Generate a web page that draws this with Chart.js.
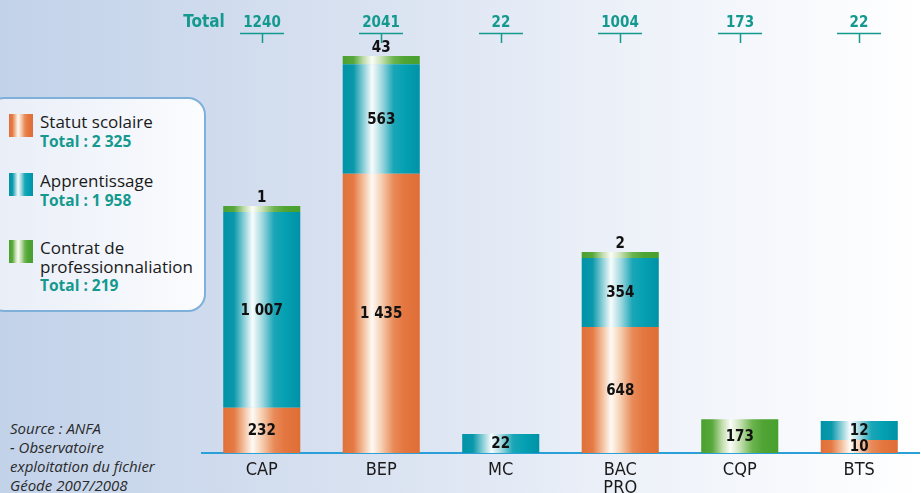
<!DOCTYPE html>
<html lang="fr">
<head>
<meta charset="utf-8">
<title>Effectifs par diplôme</title>
<script src="https://cdn.jsdelivr.net/npm/chart.js@4.4.1/dist/chart.umd.min.js"></script>
<style>
  html, body { margin: 0; padding: 0; }
  body {
    width: 921px; height: 493px; overflow: hidden; position: relative;
    background: linear-gradient(to right, #c2d2e9 0%, #d9e2f1 40%, #eef2f9 70%, #ffffff 100%);
    font-family: "Open Sans", sans-serif;
  }
  #chart { position: absolute; left: 0; top: 0; }
  #legendBox {
    position: absolute; left: -14px; top: 97px; width: 220px; height: 215px;
    box-sizing: border-box; border: 2px solid #7eb0da; border-radius: 18px;
    background: linear-gradient(to right, #e8edf7, #fbfcfe);
  }
  .swatch { position: absolute; left: 9px; width: 24px; height: 23px; }
  .ltext { position: absolute; left: 40px; font-size: 17px; line-height: 18.5px; color: #1a1a1a; }
  .ltext b { color: #14998f; font-size: 15.5px; }
  #source {
    position: absolute; left: 10px; top: 419px; font-style: italic;
    font-size: 15px; line-height: 19px; color: #2a2a2a;
  }
</style>
</head>
<body>
<div id="legendBox"></div>
<div id="legend"></div>
<div id="source">Source : ANFA<br>- Observatoire<br>exploitation du fichier<br>Géode 2007/2008</div>
<canvas id="chart" width="921" height="493"></canvas>
<script>
// --- data ---
const categories = ['CAP', 'BEP', 'MC', ['BAC', 'PRO'], 'CQP', 'BTS'];
const statutScolaire = [232, 1435, null, 648, null, 10];
const apprentissage = [1007, 563, 22, 354, null, 12];
const contratPro = [1, 43, null, 2, 173, null];
const seriesNames = [['Statut scolaire'], ['Apprentissage'], ['Contrat de', 'professionnaliation']];

const TEAL = '#14998f';
const FONT = '"DejaVu Sans Condensed", "DejaVu Sans", sans-serif';
const BAR_PCT = 0.645;

const stopsOrange = [[0, '#e0703a'], [0.14, '#e57a44'], [0.27, '#f3c09e'], [0.38, '#fffaf5'], [0.5, '#f6cfb2'], [0.66, '#e88a58'], [0.8, '#e4763f'], [1, '#df6e36']];
const stopsTeal = [[0, '#0093a7'], [0.14, '#0a98ab'], [0.27, '#8ccfd8'], [0.38, '#f8fcfd'], [0.5, '#a6dae1'], [0.66, '#1aa6b7'], [0.8, '#05a0b3'], [1, '#0092a6']];
const stopsGreen = [[0, '#4aa02f'], [0.14, '#58a83c'], [0.27, '#bfdcaa'], [0.38, '#fbfdf8'], [0.5, '#c9e2b6'], [0.66, '#6cb44f'], [0.8, '#50a434'], [1, '#48a02d']];

const allSeries = [statutScolaire, apprentissage, contratPro];
const allStops = [stopsOrange, stopsTeal, stopsGreen];

function fmt(n, sep) {
  return String(n).replace(/\B(?=(\d{3})+(?!\d))/g, sep);
}
function sum(arr) {
  return arr.reduce((a, b) => a + (b || 0), 0);
}
const colTotals = categories.map((c, i) => sum(allSeries.map(s => s[i])));

// gradient "cylindre" horizontal sur chaque barre
function cylinder(stops) {
  return function(c) {
    const chart = c.chart;
    const xs = chart.scales.x;
    if (!chart.chartArea || !xs) return stops[0][1];
    const cx = xs.getPixelForValue(c.dataIndex);
    const w = xs.width / categories.length * BAR_PCT;
    const g = chart.ctx.createLinearGradient(cx - w / 2, 0, cx + w / 2, 0);
    stops.forEach(s => g.addColorStop(s[0], s[1]));
    return g;
  };
}

// legende html
const legend = document.getElementById('legend');
const itemTops = [114, 173, 240];
seriesNames.forEach((name, k) => {
  const sw = document.createElement('div');
  sw.className = 'swatch';
  sw.style.top = itemTops[k] + 'px';
  sw.style.background = 'linear-gradient(to right, ' + allStops[k].map(s => s[1] + ' ' + (s[0] * 100) + '%').join(', ') + ')';
  legend.appendChild(sw);
  const t = document.createElement('div');
  t.className = 'ltext';
  t.style.top = (itemTops[k] - 1) + 'px';
  t.innerHTML = name.join('<br>') + '<br><b>Total : ' + fmt(sum(allSeries[k]), ' ') + '</b>';
  legend.appendChild(t);
});

const segmentLabels = {
  id: 'segmentLabels',
  afterDatasetsDraw(chart) {
    const ctx = chart.ctx;
    ctx.save();
    ctx.font = 'bold 15px ' + FONT;
    ctx.fillStyle = '#111';
    ctx.textAlign = 'center';
    chart.data.datasets.forEach((ds, di) => {
      chart.getDatasetMeta(di).data.forEach((bar, i) => {
        const v = ds.data[i];
        if (v == null) return;
        const h = Math.abs(bar.base - bar.y);
        if (h >= 12) {
          ctx.textBaseline = 'middle';
          ctx.fillText(fmt(v, ' '), bar.x, (bar.y + bar.base) / 2 + 1);
        } else {
          ctx.textBaseline = 'bottom';
          ctx.fillText(fmt(v, ' '), bar.x, bar.y);
        }
      });
    });
    ctx.restore();
  }
};

const totalsRow = {
  id: 'totalsRow',
  afterDraw(chart) {
    const ctx = chart.ctx;
    const xs = chart.scales.x;
    ctx.save();
    ctx.fillStyle = TEAL;
    ctx.strokeStyle = TEAL;
    ctx.lineWidth = 1.5;
    ctx.textAlign = 'center';
    ctx.textBaseline = 'alphabetic';
    ctx.font = 'bold 17px ' + FONT;
    ctx.fillText('Total', 204, 27);
    ctx.font = 'bold 15px ' + FONT;
    colTotals.forEach((t, i) => {
      const x = Math.round(xs.getPixelForValue(i));
      ctx.fillText(fmt(t, ''), x, 27);
      ctx.beginPath();
      ctx.moveTo(x - 22, 33.5);
      ctx.lineTo(x + 22, 33.5);
      ctx.moveTo(x + 0.5, 33.5);
      ctx.lineTo(x + 0.5, 43);
      ctx.stroke();
    });
    ctx.restore();
  }
};

const minLens = [13, 19, 6];
const chartData = {
  labels: categories,
  datasets: allSeries.map((s, k) => ({
    label: seriesNames[k].join(' '),
    data: s,
    backgroundColor: cylinder(allStops[k]),
    borderWidth: 0,
    minBarLength: minLens[k],
    barPercentage: BAR_PCT,
    categoryPercentage: 1
  }))
};

new Chart(document.getElementById('chart').getContext('2d'), {
  type: 'bar',
  data: chartData,
  options: {
    responsive: false,
    animation: false,
    devicePixelRatio: 1,
    layout: { padding: { left: 202, right: 2, top: 46, bottom: 0 } },
    plugins: {
      legend: { display: false },
      tooltip: { enabled: false }
    },
    scales: {
      x: {
        stacked: true,
        grid: { display: false, drawTicks: false },
        border: { display: true, color: '#2b9fd8', width: 2 },
        ticks: {
          color: '#1a1a1a',
          font: { family: FONT, size: 18, lineHeight: 1.0 },
          padding: 8,
          maxRotation: 0,
          autoSkip: false
        },
        afterFit(s) { s.height = 40; }
      },
      y: {
        stacked: true,
        display: false,
        min: 0,
        max: 2092
      }
    }
  },
  plugins: [segmentLabels, totalsRow]
});
</script>
</body>
</html>
